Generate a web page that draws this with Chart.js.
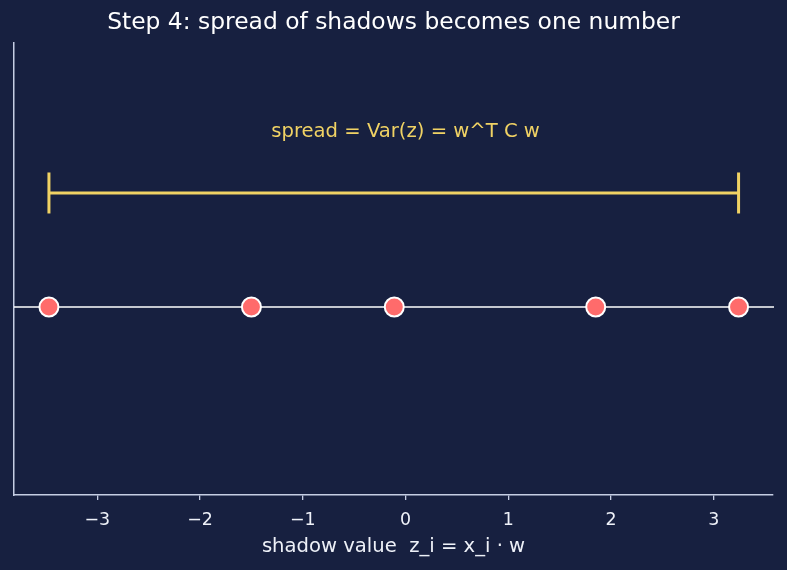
<!DOCTYPE html>
<html>
<head>
<meta charset="utf-8">
<script src="https://cdn.jsdelivr.net/npm/chart.js@4/dist/chart.umd.min.js"></script>
<style>
  html, body { margin: 0; padding: 0; background: #172040; }
  #wrap { width: 787px; height: 570px; }
</style>
</head>
<body>
<div id="wrap"><canvas id="c" width="787" height="570"></canvas></div>
<script>
// shadow values z_i
const shadowValues = [-3.47, -1.50, -0.11, 1.85, 3.24];
const xTicks = [-3, -2, -1, 0, 1, 2, 3];
const spreadLevel = 0.5;      // height of the spread bar
const labelLevel = 0.77;      // height of the formula text
const xRange = [-3.81, 3.575];
const yRange = [-0.825, 1.158];

const chartTitle = 'Step 4: spread of shadows becomes one number';
const xLabel = 'shadow value  z_i = x_i \u00b7 w';
const spreadText = 'spread = Var(z) = w^T C w';

const bg = '#172040';
const gold = '#f0d264';
const coral = '#ff6b6b';
const axisCol = '#c5cde3';
const FONT = 'DejaVu Sans';

const lo = Math.min(...shadowValues);
const hi = Math.max(...shadowValues);

/*background, zero line, title and formula text*/
const decor = {
  id: 'decor',
  beforeDraw(chart) {
    const ctx = chart.ctx;
    ctx.save();
    ctx.fillStyle = bg;
    ctx.fillRect(0, 0, chart.width, chart.height);
    ctx.restore();
  },
  beforeDatasetsDraw(chart) {
    const { ctx, chartArea, scales } = chart;
    const y0 = scales.y.getPixelForValue(0);
    ctx.save();
    ctx.strokeStyle = '#ffffff';
    ctx.lineWidth = 1.5;
    ctx.beginPath();
    ctx.moveTo(chartArea.left, y0);
    ctx.lineTo(chartArea.right + 1, y0);
    ctx.stroke();
    ctx.restore();
  },
  afterDraw(chart) {
    const { ctx, scales } = chart;
    ctx.save();
    ctx.textAlign = 'center';
    ctx.textBaseline = 'middle';
    ctx.fillStyle = '#ffffff';
    ctx.font = '23.4px "' + FONT + '"';
    ctx.fillText(chartTitle, (chart.chartArea.left + chart.chartArea.right) / 2, 23);
    ctx.fillStyle = gold;
    ctx.font = '19.6px "' + FONT + '"';
    ctx.fillText(spreadText, scales.x.getPixelForValue(0), scales.y.getPixelForValue(labelLevel));
    ctx.restore();
  }
};

new Chart(document.getElementById('c'), {
  type: 'scatter',
  data: {
    datasets: [
      {
        // the spread bar with end caps
        type: 'line',
        data: [{ x: lo, y: spreadLevel }, { x: hi, y: spreadLevel }],
        borderColor: gold,
        borderWidth: 3,
        pointStyle: 'line',
        rotation: 90,
        pointRadius: 20.5,
        pointBorderColor: gold,
        pointBorderWidth: 3,
        clip: false
      },
      {
        data: shadowValues.map(v => ({ x: v, y: 0 })),
        backgroundColor: coral,
        borderColor: '#ffffff',
        borderWidth: 2,
        pointRadius: 9.5,
        clip: false
      }
    ]
  },
  options: {
    responsive: false,
    animation: false,
    events: [],
    layout: { autoPadding: false, padding: { top: 43, right: 14, left: 0, bottom: 0 } },
    plugins: { legend: { display: false }, tooltip: { enabled: false } },
    scales: {
      x: {
        type: 'linear',
        min: xRange[0],
        max: xRange[1],
        afterBuildTicks(scale) { scale.ticks = xTicks.map(v => ({ value: v })); },
        afterFit(scale) {
          scale.height = 75;
          scale.paddingLeft = 0;
          scale.paddingRight = 0;
        },
        grid: { display: true, drawOnChartArea: false, drawTicks: true, tickLength: 5, color: axisCol, lineWidth: 1.3 },
        border: { display: true, color: axisCol, width: 1.5 },
        ticks: {
          color: '#eef1f8',
          font: { family: FONT, size: 17.4 },
          padding: 10,
          maxRotation: 0,
          callback: v => String(v).replace('-', '\u2212')
        },
        title: {
          display: true,
          text: xLabel,
          color: '#eef1f8',
          font: { family: FONT, size: 19.6 },
          padding: { top: 0, bottom: 11 }
        }
      },
      y: {
        type: 'linear',
        min: yRange[0],
        max: yRange[1],
        afterFit(scale) { scale.width = 14; },
        grid: { display: false },
        border: { display: true, color: axisCol, width: 1.5 },
        ticks: { display: false }
      }
    }
  },
  plugins: [decor]
});
</script>
</body>
</html>
